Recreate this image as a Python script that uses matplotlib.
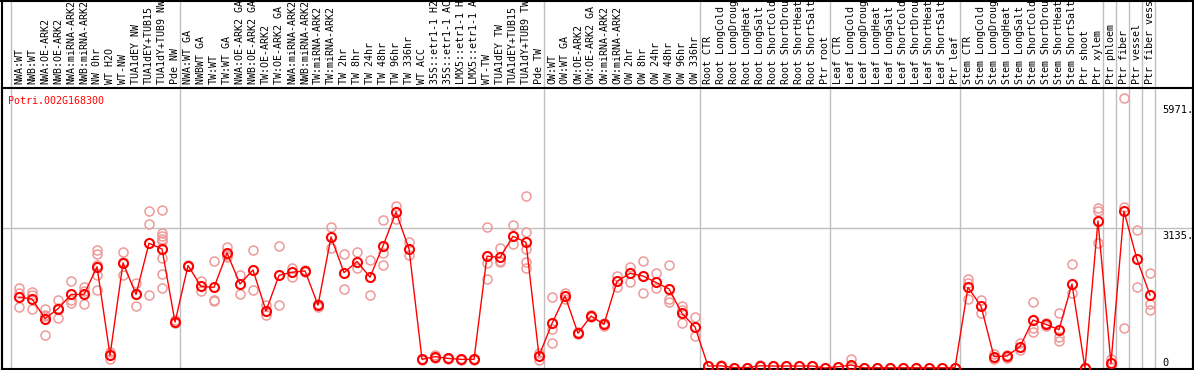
import numpy as np
import matplotlib
matplotlib.use('Agg')
import matplotlib.pyplot as plt
from matplotlib.transforms import blended_transform_factory
from matplotlib.lines import Line2D

gene = 'Potri.002G168300'

labels = ['NWA:WT', 'NWB:WT', 'NWA:OE-ARK2', 'NWB:OE-ARK2', 'NWA:miRNA-ARK2', 'NWB:miRNA-ARK2',
          'NW 0hr', 'WT H2O', 'WT-NW', 'TUA1dEY NW', 'TUA1dEY+TUB15', 'TUA1dY+TUB9 NW', 'Pde NW',
          'NWA:WT GA', 'NWBWT GA', 'TW:WT', 'TW:WT GA', 'NWA:OE-ARK2 GA', 'NWB:OE-ARK2 GA',
          'TW:OE-ARK2', 'TW:OE-ARK2 GA', 'NWA:miRNA-ARK2', 'NWB:miRNA-ARK2', 'TW:miRNA-ARK2',
          'TW:miRNA-ARK2', 'TW 2hr', 'TW 8hr', 'TW 24hr', 'TW 48hr', 'TW 96hr', 'TW 336hr',
          'WT ACC', '35S::etr1-1 H2', '35S::etr1-1 AC', 'LMX5::etr1-1 H', 'LMX5::etr1-1 A',
          'WT-TW', 'TUA1dEY TW', 'TUA1dEY+TUB15', 'TUA1dY+TUB9 TW', 'Pde TW',
          'OW:WT', 'OW:WT GA', 'OW:OE-ARK2', 'OW:OE-ARK2 GA', 'OW:miRNA-ARK2', 'OW:miRNA-ARK2',
          'OW 2hr', 'OW 8hr', 'OW 24hr', 'OW 48hr', 'OW 96hr', 'OW 336hr',
          'Root CTR', 'Root LongCold', 'Root LongDroug', 'Root LongHeat', 'Root LongSalt',
          'Root ShortCold', 'Root ShortDrou', 'Root ShortHeat', 'Root ShortSalt', 'Ptr root',
          'Leaf CTR', 'Leaf LongCold', 'Leaf LongDroug', 'Leaf LongHeat', 'Leaf LongSalt',
          'Leaf ShortCold', 'Leaf ShortDrou', 'Leaf ShortHeat', 'Leaf ShortSalt', 'Ptr leaf',
          'Stem CTR', 'Stem LongCold', 'Stem LongDroug', 'Stem LongHeat', 'Stem LongSalt',
          'Stem ShortCold', 'Stem ShortDrou', 'Stem ShortHeat', 'Stem ShortSalt', 'Ptr shoot',
          'Ptr xylem', 'Ptr phloem', 'Ptr fiber', 'Ptr vessel', 'Ptr fiber vess']

means = [1590, 1550, 1110, 1330, 1650, 1650, 2270, 285, 2360, 1650, 2800, 2670, 1030,
         2300, 1830, 1810, 2580, 1885, 2200, 1280, 2080, 2150, 2180, 1410, 2940, 2140, 2390,
         2040, 2740, 3500, 2670, 195, 255, 215, 195, 195, 2510, 2480, 2955, 2820, 270,
         1000, 1615, 780, 1165, 980, 1945, 2125, 2065, 1920, 1775, 1225, 920,
         45, 50, 10, 10, 50, 45, 45, 45, 45, 0,
         30, 65, 5, 5, 5, 5, 5, 5, 5, 5,
         1810, 1390, 255, 270, 480, 1075, 980, 860, 1885, 0, 3300,
         105, 3520, 2440, 1640]

reps = [[1795, 1690, 1376], [1705, 1645, 1317], [1324, 1196, 741, 1170], [1526, 1122, 1345],
        [1952, 1526, 1459], [1811, 1721, 1429], [2655, 2565, 2318, 2080, 1750], [350, 300, 200],
        [2603, 2080, 2390], [1915, 1391, 1650], [3516, 3231, 1631],
        [3538, 3036, 2962, 2900, 2850, 2475, 2103, 1788], [1080, 1000],
        [2300, 2310], [1960, 1721], [2401, 1526, 1500], [2715, 2498, 2530], [2094, 1661],
        [2641, 1750], [1414, 1189], [2738, 1414], [2237, 2049], [2200, 2160], [1440, 1380],
        [3171, 2686], [2558, 1773], [2610, 2237], [2424, 1631], [3314, 2573, 2311],
        [3635, 3336], [2827, 2529], [200, 190], [292, 230], [230, 200], [200, 185], [200, 185],
        [3157, 2363, 1990], [2686, 2380, 2400], [3209, 2775], [3860, 3045, 2670, 2385, 2237],
        [180, 330],
        [1593, 868, 554], [1690, 1540], [760, 800], [1150, 1190], [1020, 940], [2064, 1825],
        [2273, 1937], [2401, 1676], [2124, 1788], [2304, 1548, 1480], [1391, 1300, 1003],
        [1144, 718],
        [50, 40], [60, 40], [10], [10], [60], [50], [50], [50], [50], [0],
        [30], [202, 40], [5], [5], [5], [5], [5], [5], [5], [5],
        [1990, 1900, 1541], [1526, 1241], [314, 195], [300, 230], [568, 404],
        [1481, 890, 815], [1000, 950], [1227, 688, 613], [2334, 1676], [0],
        [3597, 3530, 2812], [195, 20], [6052, 3620, 890], [3090, 1811], [2124, 1436, 1301]]

group_starts = [0, 13, 41, 53, 63, 73, 84, 85, 86, 87, 88]
ytick_vals = [5971, 3135, 0]
ytick_text = ['5971.', '3135.', '0']

W, H = 1194, 370
fig = plt.figure(figsize=(W / 100, H / 100), dpi=100)
ax = fig.add_axes([2 / W, 1 / H, 1191 / W, 281 / H])

x = np.arange(len(means))
ax.set_xlim(-1.31, 90.31)
ax.set_ylim(-22, 6283)

# group separators run up through the label area
for g in group_starts:
    ax.axvline(g - 0.615, 0, 1.32, color='#c0c0c0', lw=1, clip_on=False, zorder=0)
ax.axhline(3135, color='#c0c0c0', lw=1, zorder=0)

for i, r in enumerate(reps):
    ax.plot([i] * len(r), r, 'o', ms=6.5, mfc='none', mec='#ee9a9a', mew=1.1,
            clip_on=False, zorder=2)
ax.plot(x, means, '-', color='red', lw=1, zorder=3, clip_on=False)
ax.plot(x, means, 'o', ms=6.5, mfc='none', mec='red', mew=1.5, zorder=4, clip_on=False)

mono = 'DejaVu Sans Mono'
trans = blended_transform_factory(ax.transData, ax.transAxes)
for i, lab in enumerate(labels):
    ax.text(i, 1.015, lab, transform=trans, rotation=90, ha='center', va='bottom',
            fontsize=7.2, family=mono, clip_on=False)

for v, t in zip(ytick_vals, ytick_text):
    ax.text(87.97, v - (0 if v == 0 else 60), t, fontsize=7.5, family=mono,
            va='bottom' if v == 0 else 'top', ha='left', clip_on=True)

ax.text(-0.85, 6000, gene, color='red', fontsize=7.2, family=mono, va='center')

ax.set_xticks([])
ax.set_yticks([])
for s in ax.spines.values():
    s.set_color('black')
    s.set_linewidth(1.5)

# outer frame lines extending into the label strip
fig.add_artist(Line2D([2 / W, 2 / W], [0, 1], color='black', lw=1.5))
fig.add_artist(Line2D([1193 / W, 1193 / W], [0, 1], color='black', lw=1.5))
fig.add_artist(Line2D([0, 1], [1 - 1 / H, 1 - 1 / H], color='black', lw=1.5))

fig.savefig('out.png', dpi=100)
